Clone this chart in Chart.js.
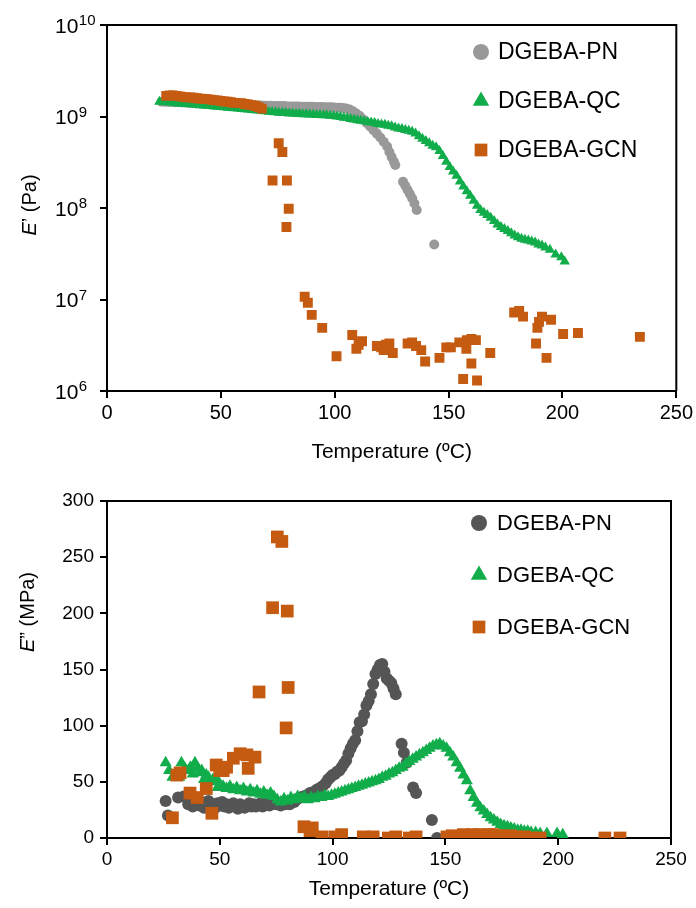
<!DOCTYPE html>
<html><head><meta charset="utf-8">
<script src="https://cdn.jsdelivr.net/npm/chart.js@4.4.1/dist/chart.umd.min.js"></script>
<style>body{margin:0;background:#fff;position:relative;width:696px;height:908px;overflow:hidden;} canvas{display:block;position:absolute;left:0;}</style>
</head><body>
<canvas id="c1" width="696" height="470" style="top:0"></canvas>
<canvas id="c2" width="696" height="448" style="top:460px"></canvas>
<script>
// ---------- data ----------
const seriesNames = ['DGEBA-PN', 'DGEBA-QC', 'DGEBA-GCN'];
const xTicks = [0, 50, 100, 150, 200, 250];
const storageTicks = [1e6, 1e7, 1e8, 1e9, 1e10];
const lossTicks = [0, 50, 100, 150, 200, 250, 300];
const xTitle = 'Temperature (ºC)';

// Storage modulus E' (Pa): [temperature °C, value]
const pnStorage = [
 [24,1.45e9],[25.5,1.45e9],[27,1.44e9],[28.5,1.44e9],[30,1.43e9],[31.5,1.43e9],[33,1.42e9],[34.5,1.42e9],
 [36,1.41e9],[37.5,1.41e9],[39,1.40e9],[40.5,1.40e9],[42,1.39e9],[43.5,1.39e9],[45,1.38e9],[46.5,1.38e9],
 [48,1.37e9],[49.5,1.37e9],[51,1.36e9],[52.5,1.36e9],[54,1.35e9],[55.5,1.35e9],[57,1.34e9],[58.5,1.34e9],
 [60,1.33e9],[61.5,1.33e9],[63,1.33e9],[64.5,1.32e9],[66,1.32e9],[67.5,1.32e9],[69,1.31e9],[70.5,1.31e9],
 [72,1.31e9],[73.5,1.30e9],[75,1.30e9],[76.5,1.30e9],[78,1.30e9],[79.5,1.29e9],[81,1.29e9],[82.5,1.29e9],
 [84,1.29e9],[85.5,1.28e9],[87,1.28e9],[88.5,1.28e9],[90,1.28e9],[91.5,1.27e9],[93,1.27e9],[94.5,1.27e9],
 [96,1.26e9],[97.5,1.26e9],[99,1.26e9],[100.5,1.25e9],[102,1.25e9],[103.5,1.24e9],[105,1.22e9],[106.5,1.19e9],
 [108,1.14e9],[109.5,1.08e9],[111,1.01e9],[112.5,9.3e8],[114,8.5e8],[115.5,7.8e8],[117,7.1e8],[118.5,6.5e8],
 [120,5.9e8],[121.5,5.3e8],[123,4.7e8],[124,4.1e8],[125,3.6e8],[126,3.2e8],[126.6,2.95e8],
 [130,1.93e8],[131,1.75e8],[132,1.57e8],[133,1.42e8],[134,1.28e8],[135,1.12e8],[136,9.5e7],
 [143.7,4.0e7]
];
const qcStorage = [
 [23,1.45e9],[24.5,1.44e9],[26,1.43e9],[27.5,1.42e9],[29,1.41e9],[30.5,1.40e9],[32,1.39e9],[33.5,1.38e9],
 [35,1.37e9],[36.5,1.36e9],[38,1.35e9],[39.5,1.34e9],[41,1.33e9],[42.5,1.32e9],[44,1.31e9],[45.5,1.30e9],
 [47,1.29e9],[48.5,1.28e9],[50,1.27e9],[51.5,1.26e9],[53,1.25e9],[54.5,1.24e9],[56,1.23e9],[57.5,1.22e9],
 [59,1.21e9],[60.5,1.20e9],[62,1.19e9],[63.5,1.18e9],[65,1.17e9],[66.5,1.16e9],[68,1.15e9],[69.5,1.14e9],
 [71,1.13e9],[72.5,1.12e9],[74,1.11e9],[75.5,1.10e9],[77,1.10e9],[78.5,1.09e9],[80,1.08e9],[81.5,1.08e9],
 [83,1.07e9],[84.5,1.07e9],[86,1.06e9],[87.5,1.06e9],[89,1.05e9],[90.5,1.05e9],[92,1.04e9],[93.5,1.04e9],
 [95,1.03e9],[96.5,1.03e9],[98,1.02e9],[99.5,1.01e9],[101,1.0e9],[102.5,9.9e8],[104,9.7e8],[105.5,9.6e8],
 [107,9.4e8],[108.5,9.3e8],[110,9.1e8],[111.5,9.0e8],[113,8.9e8],[114.5,8.7e8],[116,8.6e8],[117.5,8.5e8],
 [119,8.3e8],[120.5,8.2e8],[122,8.1e8],[123.5,7.9e8],[125,7.8e8],[126.5,7.6e8],[128,7.4e8],[129.5,7.3e8],
 [131,7.1e8],[132.5,7.0e8],[134,6.8e8],[135.5,6.5e8],[137,6.1e8],[138.5,5.7e8],[140,5.4e8],[141.5,5.1e8],
 [143,4.8e8],[144.5,4.6e8],[146,4.2e8],[147.5,3.7e8],[149,3.2e8],[150.5,2.8e8],[152,2.5e8],[153.5,2.25e8],
 [155,1.95e8],[156.5,1.72e8],[158,1.52e8],[159.5,1.36e8],[161,1.2e8],[162.5,1.06e8],[164,9.5e7],[165.5,8.9e7],
 [167,8.4e7],[168.5,7.8e7],[170,7.2e7],[171.5,6.6e7],[173,6.2e7],[174.5,5.9e7],[176,5.6e7],[177.5,5.3e7],
 [179,5.0e7],[180.5,4.8e7],[182,4.6e7],[183.5,4.5e7],[185,4.4e7],[186.5,4.3e7],[188,4.2e7],[189.5,4.0e7],
 [191,3.9e7],[192.5,3.7e7],[194.5,3.5e7],[197,3.1e7],[199.5,2.9e7],[201,2.6e7]
];
const gcnStorage = [
 [26,1.68e9],[27.5,1.70e9],[29,1.70e9],[30.5,1.68e9],[32,1.66e9],[33.5,1.64e9],[35,1.62e9],[36.5,1.62e9],
 [38,1.60e9],[39.5,1.58e9],[41,1.57e9],[42.5,1.56e9],[44,1.55e9],[45.5,1.53e9],[47,1.51e9],[48.5,1.50e9],
 [50,1.48e9],[51.5,1.46e9],[53,1.45e9],[54.5,1.43e9],[56,1.41e9],[57.5,1.40e9],[59,1.40e9],[60.5,1.37e9],
 [62,1.35e9],[63.5,1.33e9],[65,1.31e9],[66.5,1.27e9],[68,1.22e9],
 [75.4,5.1e8],[77,4.1e8],[72.7,2.0e8],[79,2.0e8],[79.8,9.8e7],[78.8,6.2e7],
 [86.8,1.07e7],[88.2,9.2e6],[89.9,6.8e6],[94.5,4.9e6],[100.8,2.4e6],[107.7,4.1e6],[109.5,2.9e6],[110.5,3.2e6],
 [112,3.5e6],[118.5,3.1e6],[120.4,3.0e6],[121.5,2.8e6],[122.5,3.2e6],[124,3.3e6],[125.5,2.6e6],[132,3.3e6],
 [134,3.4e6],[135.7,3.1e6],[138,2.8e6],[139.7,2.1e6],[146,2.3e6],[149,3.0e6],[151,3.0e6],[154.7,3.4e6],
 [158,3.6e6],[160,3.7e6],[162,3.6e6],[157.8,2.9e6],[160,2.0e6],[156.4,1.35e6],[162.5,1.3e6],[168.3,2.6e6],
 [178.8,7.2e6],[181,7.5e6],[182.7,6.5e6],[189,4.9e6],[189.7,5.7e6],[191,6.5e6],[195,6.0e6],[188.4,3.3e6],
 [193,2.3e6],[200.3,4.2e6],[206.8,4.3e6],[234,3.9e6]
];

// Loss modulus E'' (MPa): [temperature °C, value]
const pnLoss = [
 [26,33],[27,20],[31.5,36],[34,37],[36,30],[37,33],[38,28],[39,31],[40,34],[41,29],[42,32],[43,27],
 [44,31],[45,33],[46,28],[47,30],[48,27],[49,31],[50,29],[51,32],[52,28],[53,30],[54,27],[55,29],
 [56,31],[57,28],[58,26],[59,30],[60,28],[61,27],[62,29],[63,31],[64,28],[65,30],[66,28],[67,29],
 [68,31],[69,28],[70,30],[71,31],[72,29],[73,30],[74,32],[75,30],[76,31],[77,29],[78,31],[79,30],
 [80,32],[81,30],[82,33],[83,32],[84,34],[85.5,36],[87,37],[88.5,38],[90,40],[91.5,41],[93,43],[94,44],
 [95.5,46],[97,49],[98,52],[99,54],[100,56],[101,57],[102,59],[103,60],[104,63],[105,66],[106,69],[107,75],
 [108,80],[109,84],[110,87],[111,95],[112,103],[113,104],[114,110],[115,118],[116,122],[117,128],[118,137],
 [119,146],[120,150],[121,154],[122,155],[123,148],[124,142],[125,140],[126,138],[127,133],[128,128],
 [130.6,84],[131.6,76],[132.8,67],[135.7,45],[137,40],[144,16],[146.3,0]
];
const qcLoss = [
 [26,67],[27.5,60],[29,54],[30.5,55],[32,54],[33,67],[34.5,62],[36,60],[37,63],[38,57],[39,67],[40,62],
 [41,58],[42,60],[43,52],[44,56],[45,54],[46,50],[47,52],[48.5,53],[49,45],[50,48],[51.5,46],[53,44],
 [54.5,46],[56,43],[57.5,45],[59,42],[60.5,44],[62,41],[63.5,43],[65,40],[66.5,42],[68,39],[69.5,41],
 [71,38],[72.5,40],[74,37],[75.5,34],[77,32],[78.5,35],[80,33],[81.5,36],[83,34],[84.5,37],[86,35],
 [87.5,37],[89,34],[90.5,36],[92,35],[93.5,37],[95,36],[96.5,38],[98,37],[99.5,38],[101,39],[102.5,40],
 [104,41],[105.5,42],[107,43],[108.5,44],[110,45],[111.5,46],[113,47],[114.5,48],[116,49],[117.5,50],
 [119,51],[120.5,52],[122,54],[123.5,55],[125,57],[126.5,58],[128,60],[129.5,62],[131,63],[132.5,66],
 [134,68],[135.5,70],[137,72],[138.5,74],[140,76],[141.5,78],[143,80],[144.5,82],[146,83],[147.5,84],
 [149,82],[150.5,80],[152,76],[153.5,72],[155,67],[156.5,62],[158,56],[159.5,51],[161,42],[162.5,36],
 [164,31],[165.5,27],[167,24],[168.5,21],[170,18],[171.5,16],[173,14],[174.5,12],[176,11],[177.5,10],
 [179,9],[180.5,8],[182,7],[183.5,7],[185,6],[186.5,6],[188,5],[190,5],[192,4],[195,4],[199.5,4],[202,3]
];
const gcnLoss = [
 [29,18],[31,56],[32.4,58],[36.8,40],[40,36],[44,44],[46.5,22],[48.4,65],[50,60],[51.5,60],[53,63],
 [56,71],[59,75],[62,74],[62.6,62],[65.6,72],[67.4,130],[73.4,205],[75.5,268],[77.5,264],[79.4,98],
 [79.9,202],[80.3,134],[87.3,10],[90,6.5],[91,9],[95.3,1],[101,1],[104,3],[113.6,1],[118,1],[124.7,0],
 [128,1],[134,0],[137,1],[150.7,1],[153,2],[155,1],[158,3],[160,2],[162,3],[165,3],[167,2],[169,3],
 [171,3],[173,2],[175,2],[177,1],[179,2],[181.7,1],[185,1],[188,0],[192,0],[220.7,0],[227.4,0]
];

// ---------- styles ----------
const GREEN = '#11ad4b', ORANGE = '#c55a11';
const FONT = "'Liberation Sans', Arial, sans-serif";
const toPts = arr => arr.map(p => ({x: p[0], y: p[1]}));

const framePlugin = {
  id: 'frame',
  afterDraw(chart) {
    const {ctx, chartArea: a} = chart;
    ctx.save();
    ctx.strokeStyle = '#000'; ctx.lineWidth = 2;
    ctx.beginPath();
    ctx.moveTo(a.left, a.top); ctx.lineTo(a.right, a.top); ctx.lineTo(a.right, a.bottom);
    ctx.stroke();
    ctx.restore();
  }
};
// power-of-ten tick labels (10 with a raised exponent), placed by the log scale
const powerLabelPlugin = {
  id: 'powlabels',
  afterDraw(chart, args, o) {
    if (!o || !o.enabled) return;
    const ctx = chart.ctx, scale = chart.scales.y;
    ctx.save();
    ctx.fillStyle = '#000';
    ctx.textAlign = 'left';
    ctx.textBaseline = 'alphabetic';
    scale.ticks.forEach(t => {
      const y = scale.getPixelForValue(t.value);
      const exp = String(Math.round(Math.log10(t.value)));
      ctx.font = o.size + 'px ' + FONT;
      const w = ctx.measureText('10').width;
      const base = y + o.size * 0.36;
      ctx.fillText('10', o.x, base);
      ctx.font = o.expSize + 'px ' + FONT;
      ctx.fillText(exp, o.x + w + 0.5, base - o.size * 0.36);
    });
    ctx.restore();
  }
};
const yTitlePlugin = {
  id: 'ytitle',
  afterDraw(chart, args, o) {
    const ctx = chart.ctx;
    ctx.save();
    ctx.translate(o.x, o.y);
    ctx.rotate(-Math.PI / 2);
    ctx.fillStyle = '#000';
    ctx.textBaseline = 'middle';
    const fi = 'italic ' + o.size + 'px ' + FONT, fn = o.size + 'px ' + FONT;
    ctx.font = fi; const w1 = ctx.measureText('E').width;
    ctx.font = fn; const w2 = ctx.measureText(o.rest).width;
    let x0 = -(w1 + w2) / 2;
    ctx.font = fi; ctx.textAlign = 'left'; ctx.fillText('E', x0, 0);
    ctx.font = fn; ctx.fillText(o.rest, x0 + w1, 0);
    ctx.restore();
  }
};
const legendPlugin = {
  id: 'boxlegend',
  afterDraw(chart, args, o) {
    const ctx = chart.ctx;
    ctx.save();
    chart.data.datasets.forEach((ds, i) => {
      const y = o.y + i * o.gap;
      ctx.fillStyle = ds.backgroundColor;
      ctx.strokeStyle = ds.backgroundColor;
      Chart.helpers.drawPoint(ctx, {pointStyle: ds.pointStyle, radius: o.radii[i], rotation: 0, borderWidth: 0}, o.mx, y);
      ctx.fillStyle = '#000';
      ctx.font = o.size + 'px ' + FONT;
      ctx.textAlign = 'left'; ctx.textBaseline = 'middle';
      ctx.fillText(ds.label, o.tx, y + 1);
    });
    ctx.restore();
  }
};

function axisCommon(extra) {
  return Object.assign({
    grid: {display: true, drawOnChartArea: false, drawTicks: true, tickLength: 7, color: '#000', lineWidth: 2},
    border: {display: true, color: '#000', width: 2},
  }, extra);
}

function makeChart(id, cfg) {
  return new Chart(document.getElementById(id), {
    type: 'scatter',
    data: {datasets: [
      {label: seriesNames[0], data: toPts(cfg.pn), pointStyle: 'circle', pointRadius: cfg.r[0], backgroundColor: cfg.pnColor, borderWidth: 0, order: 2},
      {label: seriesNames[1], data: toPts(cfg.qc), pointStyle: 'triangle', pointRadius: cfg.r[1], backgroundColor: GREEN, borderWidth: 0, order: 1},
      {label: seriesNames[2], data: toPts(cfg.gcn), pointStyle: 'rect', pointRadius: cfg.r[2], backgroundColor: ORANGE, borderWidth: 0, order: 0}
    ]},
    options: {
      responsive: false, animation: false, events: [],
      layout: {padding: cfg.padding},
      plugins: {
        legend: {display: false}, tooltip: {enabled: false},
        ytitle: cfg.ytitle, boxlegend: cfg.legend, powlabels: cfg.pow || {enabled: false}
      },
      scales: {
        x: axisCommon({
          type: 'linear', min: 0, max: 250,
          afterBuildTicks: s => { s.ticks = xTicks.map(v => ({value: v})); },
          afterFit: s => { s.height = cfg.xh; },
          ticks: {color: '#000', font: {family: FONT, size: cfg.tickSize}, padding: 3, maxRotation: 0, callback: v => String(v)},
          title: {display: true, text: xTitle, color: '#000', font: {family: FONT, size: cfg.titleSize}, padding: {top: 0, bottom: cfg.titlePad}}
        }),
        y: axisCommon(cfg.y)
      }
    },
    plugins: [framePlugin, powerLabelPlugin, yTitlePlugin, legendPlugin]
  });
}

makeChart('c1', {
  pn: pnStorage, qc: qcStorage, gcn: gcnStorage, pnColor: '#999999', r: [5, 6, 7],
  padding: {top: 25, right: 19, left: 0, bottom: 0}, xh: 79, tickSize: 20, titleSize: 21, titlePad: 5,
  ytitle: {x: 30, y: 205, size: 20, rest: '’ (Pa)'},
  legend: {mx: 481, tx: 498, y: 52, gap: 49, size: 23, radii: [8, 9.5, 9]},
  pow: {enabled: true, x: 55, size: 21, expSize: 15},
  y: {
    type: 'logarithmic', min: 1e6, max: 1e10,
    afterBuildTicks: s => { s.ticks = storageTicks.map(v => ({value: v})); },
    afterFit: s => { s.width = 107; },
    ticks: {display: false}
  }
});

makeChart('c2', {
  pn: pnLoss, qc: qcLoss, gcn: gcnLoss, pnColor: '#555555', r: [6, 7, 9],
  padding: {top: 41, right: 25, left: 0, bottom: 0}, xh: 70, tickSize: 19, titleSize: 21, titlePad: 6,
  ytitle: {x: 28, y: 152, size: 20, rest: '” (MPa)'},
  legend: {mx: 479, tx: 497, y: 63, gap: 52, size: 22, radii: [8, 9.5, 9]},
  y: {
    type: 'linear', min: 0, max: 300,
    afterBuildTicks: s => { s.ticks = lossTicks.map(v => ({value: v})); },
    afterFit: s => { s.width = 107; },
    ticks: {color: '#000', font: {family: FONT, size: 19}, padding: 6, callback: v => String(v)}
  }
});
</script>
</body></html>
